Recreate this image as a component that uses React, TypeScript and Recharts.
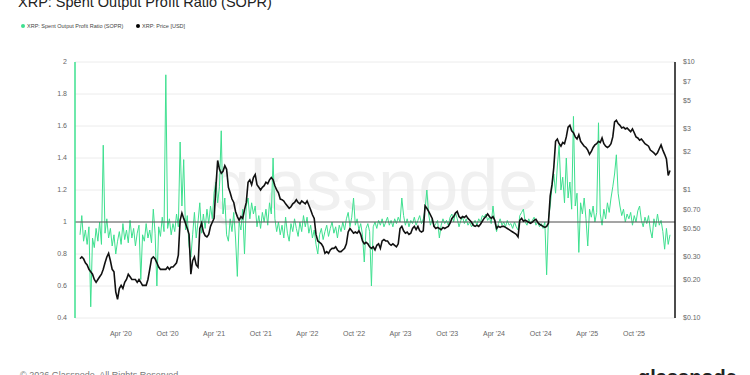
import { CartesianGrid, Line, LineChart, ReferenceLine, XAxis, YAxis } from "recharts";

const FONT = "'Liberation Sans', Arial, sans-serif";
const GREEN = "#3ee08f";

// weekly samples starting 24 Oct 2019
const START = Date.UTC(2019, 9, 24);
const WEEK = 7 * 24 * 3600 * 1000;

const xTicks = [
  Date.UTC(2020, 3, 1), Date.UTC(2020, 9, 1), Date.UTC(2021, 3, 1), Date.UTC(2021, 9, 1),
  Date.UTC(2022, 3, 1), Date.UTC(2022, 9, 1), Date.UTC(2023, 3, 1), Date.UTC(2023, 9, 1),
  Date.UTC(2024, 3, 1), Date.UTC(2024, 9, 1), Date.UTC(2025, 3, 1), Date.UTC(2025, 9, 1),
];
const soprTicks = [0.4, 0.6, 0.8, 1, 1.2, 1.4, 1.6, 1.8, 2];
const priceTicks = [0.1, 0.2, 0.3, 0.5, 0.7, 1, 2, 3, 5, 7, 10];

const price = [
  0.29, 0.30, 0.29, 0.27, 0.26, 0.24, 0.23, 0.22, 0.20, 0.19,
  0.20, 0.21, 0.22, 0.24, 0.27, 0.30, 0.32, 0.28, 0.24, 0.23,
  0.16, 0.14, 0.17, 0.18, 0.17, 0.19, 0.20, 0.22, 0.21, 0.20,
  0.20, 0.20, 0.19, 0.20, 0.19, 0.18, 0.18, 0.18, 0.20, 0.24,
  0.29, 0.30, 0.29, 0.27, 0.25, 0.24, 0.24, 0.24, 0.24, 0.25,
  0.24, 0.25, 0.25, 0.26, 0.27, 0.31, 0.58, 0.66, 0.60, 0.55,
  0.50, 0.45, 0.22, 0.28, 0.30, 0.26, 0.25, 0.50, 0.55, 0.47,
  0.44, 0.43, 0.45, 0.52, 0.56, 0.60, 1.05, 1.70, 1.45, 1.35,
  1.40, 1.55, 1.45, 1.05, 0.95, 0.85, 0.80, 0.68, 0.62, 0.58,
  0.62, 0.60, 0.70, 0.80, 1.15, 1.20, 1.10, 1.25, 1.32, 1.10,
  1.05, 1.00, 1.05, 1.08, 1.15, 1.12, 1.20, 1.25, 1.20, 1.08,
  1.00, 0.95, 0.85, 0.84, 0.82, 0.78, 0.75, 0.72, 0.74, 0.78,
  0.80, 0.84, 0.80, 0.78, 0.82, 0.80, 0.78, 0.82, 0.76, 0.70,
  0.64, 0.60, 0.45, 0.40, 0.39, 0.38, 0.36, 0.32, 0.33, 0.32,
  0.34, 0.35, 0.35, 0.36, 0.34, 0.33, 0.33, 0.34, 0.35, 0.38,
  0.47, 0.50, 0.48, 0.46, 0.47, 0.46, 0.48, 0.45, 0.40, 0.38,
  0.39, 0.38, 0.36, 0.35, 0.36, 0.34, 0.37, 0.38, 0.35, 0.40,
  0.41, 0.40, 0.40, 0.38, 0.37, 0.38, 0.37, 0.36, 0.38, 0.50,
  0.52, 0.48, 0.46, 0.47, 0.45, 0.46, 0.50, 0.52, 0.49, 0.52,
  0.48, 0.47, 0.48, 0.75, 0.72, 0.68, 0.64, 0.60, 0.52, 0.50,
  0.51, 0.50, 0.49, 0.51, 0.50, 0.51, 0.52, 0.55, 0.60, 0.62,
  0.66, 0.68, 0.62, 0.60, 0.62, 0.61, 0.63, 0.60, 0.58, 0.56,
  0.53, 0.52, 0.53, 0.52, 0.54, 0.57, 0.60, 0.62, 0.65, 0.62,
  0.60, 0.62, 0.58, 0.50, 0.52, 0.51, 0.52, 0.52, 0.51, 0.50,
  0.49, 0.48, 0.47, 0.46, 0.45, 0.43, 0.58, 0.60, 0.57, 0.58,
  0.57, 0.56, 0.55, 0.56, 0.58, 0.59, 0.56, 0.54, 0.53, 0.52,
  0.51, 0.52, 0.55, 0.90, 1.10, 1.50, 2.40, 2.50, 2.30, 2.20,
  2.35, 2.30, 2.60, 3.10, 3.20, 2.90, 2.80, 2.60, 2.50, 2.70,
  2.40, 2.30, 2.20, 2.15, 2.05, 1.90, 2.00, 2.15, 2.25, 2.30,
  2.40, 2.35, 2.55, 2.30, 2.20, 2.15, 2.20, 2.30, 2.60, 3.40,
  3.50, 3.30, 3.20, 3.05, 3.10, 3.00, 3.05, 2.95, 2.85, 3.00,
  2.80, 2.60, 2.55, 2.45, 2.50, 2.40, 2.30, 2.25, 2.20, 2.05,
  2.00, 1.95, 1.88, 1.95, 2.10, 2.25, 2.05, 1.90, 1.75, 1.30,
  1.42,
];

const sopr = [
  0.92, 1.04, 0.88, 0.95, 0.86, 0.97, 0.47, 0.90, 0.84, 0.96,
  0.88, 1.00, 0.86, 1.48, 0.93, 1.02, 0.90, 0.96, 0.85, 0.92,
  0.80, 0.88, 0.94, 0.86, 0.99, 0.89, 0.95, 0.87, 1.01, 0.90,
  0.96, 0.85, 0.93, 0.98, 0.64, 0.92, 0.88, 0.99, 0.90, 0.95,
  0.87, 1.08, 0.93, 0.60, 0.97, 0.91, 1.03, 0.94, 1.92, 0.96,
  1.02, 0.92, 0.99, 0.94, 1.05, 0.97, 1.50, 1.10, 1.39, 0.95,
  1.04, 0.85, 0.78, 0.92, 1.06, 0.90, 1.00, 1.12, 0.93, 1.05,
  0.96, 1.08, 0.99, 1.10, 1.02, 1.18, 1.25, 1.12, 1.22, 1.57,
  1.05, 1.15, 0.92, 0.88, 1.02, 0.94, 1.06, 0.90, 0.66, 1.00,
  0.95, 1.08, 0.80, 1.10, 1.15, 1.02, 1.12, 1.05, 1.10, 0.97,
  1.04, 0.96, 1.06, 1.00, 1.08, 0.98, 1.12, 1.05, 1.40, 1.02,
  0.94, 1.00, 0.92, 0.98, 0.90, 1.03, 0.93, 0.88, 0.99, 0.94,
  1.02, 0.96, 0.91, 1.00, 0.94, 1.04, 0.97, 1.03, 0.93, 0.98,
  0.90, 0.95, 0.86, 0.80, 0.92, 0.96, 0.89, 0.94, 0.98, 0.91,
  0.96, 1.00, 0.93, 0.97, 0.90, 0.98, 0.94, 1.00, 0.95, 1.02,
  1.06, 0.97, 1.03, 1.15, 0.98, 1.02, 0.95, 0.99, 0.92, 0.75,
  0.96, 0.99, 0.94, 0.60, 0.97, 1.00, 0.96, 1.01, 0.98, 1.02,
  0.97, 1.00, 1.03, 0.98, 1.01, 0.97, 1.02, 0.99, 1.03, 1.00,
  1.15, 1.04, 0.98, 1.02, 0.97, 1.01, 0.99, 1.03, 0.98, 1.01,
  1.04, 0.99, 1.02, 1.08, 1.20, 1.05, 0.98, 1.02, 0.97, 0.99,
  1.01, 0.90, 0.98, 1.02, 0.99, 1.01, 0.98, 1.03, 1.05, 1.00,
  1.06, 1.02, 0.97, 1.01, 1.03, 0.99, 1.02, 0.98, 1.00, 0.97,
  0.99, 1.01, 0.98, 1.02, 1.00, 1.04, 1.03, 1.05, 1.01, 1.03,
  0.99, 1.10, 1.00, 0.94, 0.99, 1.02, 0.98, 1.00, 0.97, 1.01,
  0.98, 0.99, 0.96, 1.00, 0.97, 0.95, 1.04, 1.06, 1.08, 1.00,
  0.98, 1.02, 0.99, 1.01, 1.03, 0.98, 1.00, 0.97, 0.99, 0.96,
  1.00, 0.67, 1.02, 1.10, 1.22, 1.30, 1.18, 1.35, 1.48, 1.20,
  1.28, 1.12, 1.40, 1.15, 1.25, 1.08, 1.66, 1.10, 1.18, 0.81,
  1.12, 1.05, 1.15, 1.02, 0.85, 1.08, 1.03, 1.10, 1.00, 1.06,
  1.62, 1.05, 0.98, 1.08, 1.02, 1.12, 1.06, 1.15, 1.22, 1.30,
  1.42, 1.18, 1.10, 1.04, 1.08, 1.00, 1.05, 1.02, 1.06, 0.98,
  1.04, 1.00, 1.07, 1.10, 1.01, 0.97, 1.03, 0.99, 1.04, 0.95,
  0.90, 1.02, 0.97, 1.05, 0.98, 1.01, 0.94, 0.83, 0.96, 0.86,
  0.92,
];

const rows = price.map((p, i) => ({ t: START + i * WEEK, price: p, sopr: sopr[i] }));

const MONTHS = ["Jan", "Feb", "Mar", "Apr", "May", "Jun", "Jul", "Aug", "Sep", "Oct", "Nov", "Dec"];
const fmtDate = (v: number) => {
  const d = new Date(v);
  return `${MONTHS[d.getUTCMonth()]} '${String(d.getUTCFullYear()).slice(2)}`;
};
const fmtPrice = (v: number) => (v < 1 ? `$${v.toFixed(2)}` : `$${v}`);

const tick = { fill: "#666", fontSize: 7, fontFamily: FONT };

export default function App() {
  return (
    <div style={{ position: "absolute", left: 0, top: 0, width: 750, height: 375, background: "#fff", overflow: "hidden" }}>
      <svg width={750} height={375} style={{ position: "absolute", left: 0, top: 0 }} fontFamily={FONT}>
        <text x={18} y={7} fontSize={14.5} fill="#222">XRP: Spent Output Profit Ratio (SOPR)</text>
        <circle cx={23} cy={26} r={2} fill={GREEN} />
        <text x={27} y={28} fontSize={5.5} fill="#444">XRP: Spent Output Profit Ratio (SOPR)</text>
        <circle cx={138} cy={26} r={2} fill="#000" />
        <text x={142} y={28} fontSize={5.5} fill="#444">XRP: Price [USD]</text>
        <text x={210} y={210} fontSize={72} fill="#f0f0f0">glassnode</text>
        <text x={20} y={378} fontSize={9} fill="#777">© 2026 Glassnode. All Rights Reserved.</text>
        <text x={638} y={384} fontSize={20} fontWeight={600} fill="#222">glassnode</text>
      </svg>
      <div style={{ position: "absolute", left: 0, top: 0 }}>
        <LineChart width={750} height={375} data={rows} margin={{ top: 62, right: 0, bottom: 27, left: 0 }}>
          <CartesianGrid yAxisId="left" vertical={false} stroke="#ececec" />
          <XAxis
            dataKey="t"
            type="number"
            scale="time"
            domain={["dataMin", "dataMax"]}
            ticks={xTicks}
            tickFormatter={fmtDate}
            padding={{ left: 5, right: 5 }}
            axisLine={false}
            tickLine={false}
            tickMargin={7}
            height={30}
            tick={tick}
          />
          <YAxis
            yAxisId="left"
            domain={[0.4, 2]}
            ticks={soprTicks}
            allowDataOverflow
            width={75}
            axisLine={{ stroke: GREEN, strokeWidth: 1.5 }}
            tickLine={false}
            tick={tick}
          />
          <YAxis
            yAxisId="right"
            orientation="right"
            scale="log"
            domain={[0.1, 10]}
            ticks={priceTicks}
            tickFormatter={fmtPrice}
            allowDataOverflow
            width={75}
            axisLine={{ stroke: "#111", strokeWidth: 1.5 }}
            tickLine={false}
            tick={tick}
          />
          <Line yAxisId="left" dataKey="sopr" stroke={GREEN} strokeWidth={1} dot={false} isAnimationActive={false} />
          <ReferenceLine yAxisId="left" y={1} stroke="#555" strokeWidth={1.2} />
          <Line yAxisId="right" dataKey="price" stroke="#111" strokeWidth={1.6} dot={false} isAnimationActive={false} />
        </LineChart>
      </div>
    </div>
  );
}
